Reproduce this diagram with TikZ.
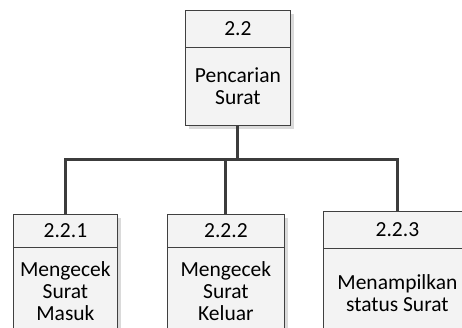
\documentclass[tikz,border=0pt]{standalone}
\usepackage{fontspec}
\setmainfont{Carlito}
\usetikzlibrary{shadows}
\definecolor{boxfill}{HTML}{F3F3F3}
\definecolor{boxline}{HTML}{404040}
\definecolor{shadowgray}{HTML}{DADADA}
\definecolor{busline}{HTML}{3C3C3C}
\begin{document}
\begin{tikzpicture}[x=1pt,y=-1pt,
  boxpart/.style={draw=boxline, line width=0.8pt, fill=boxfill, inner sep=0pt,
    anchor=north west, align=center,
    font=\fontsize{21.5}{22}\selectfont,
    drop shadow={shadow xshift=4pt, shadow yshift=-4pt, fill=shadowgray, opacity=1}},
  bus/.style={draw=busline, line width=3pt}
]
\clip (0,0) rectangle (462,327);

% parent process
\node[boxpart, minimum width=105pt, minimum height=37pt] (tophead) at (185,10) {2.2};
\node[boxpart, minimum width=105pt, minimum height=78pt] (topbody) at (185,47) {Pencarian\\Surat};

% child processes
\node[boxpart, minimum width=104pt, minimum height=33pt] (h1) at (13,214) {2.2.1};
\node[boxpart, minimum width=104pt, minimum height=88pt] (b1) at (13,247) {Mengecek\\Surat\\Masuk};

\node[boxpart, minimum width=117pt, minimum height=33pt] (h2) at (167,214) {2.2.2};
\node[boxpart, minimum width=117pt, minimum height=88pt] (b2) at (167,247) {Mengecek\\Surat\\Keluar};

\node[boxpart, minimum width=148pt, minimum height=37pt] (h3) at (323,211) {2.2.3};
\node[boxpart, minimum width=148pt, minimum height=90pt] (b3) at (323,248) {Menampilkan\\status Surat};

% connecting bus
\coordinate (bus) at (237.5,159);
\draw[bus] (topbody.south) -- (topbody.south |- bus);
\draw[bus] (h1.north) -- (h1.north |- bus) -- (h3.north |- bus) -- (h3.north);
\draw[bus] (h2.north) -- (h2.north |- bus);
\end{tikzpicture}
\end{document}
